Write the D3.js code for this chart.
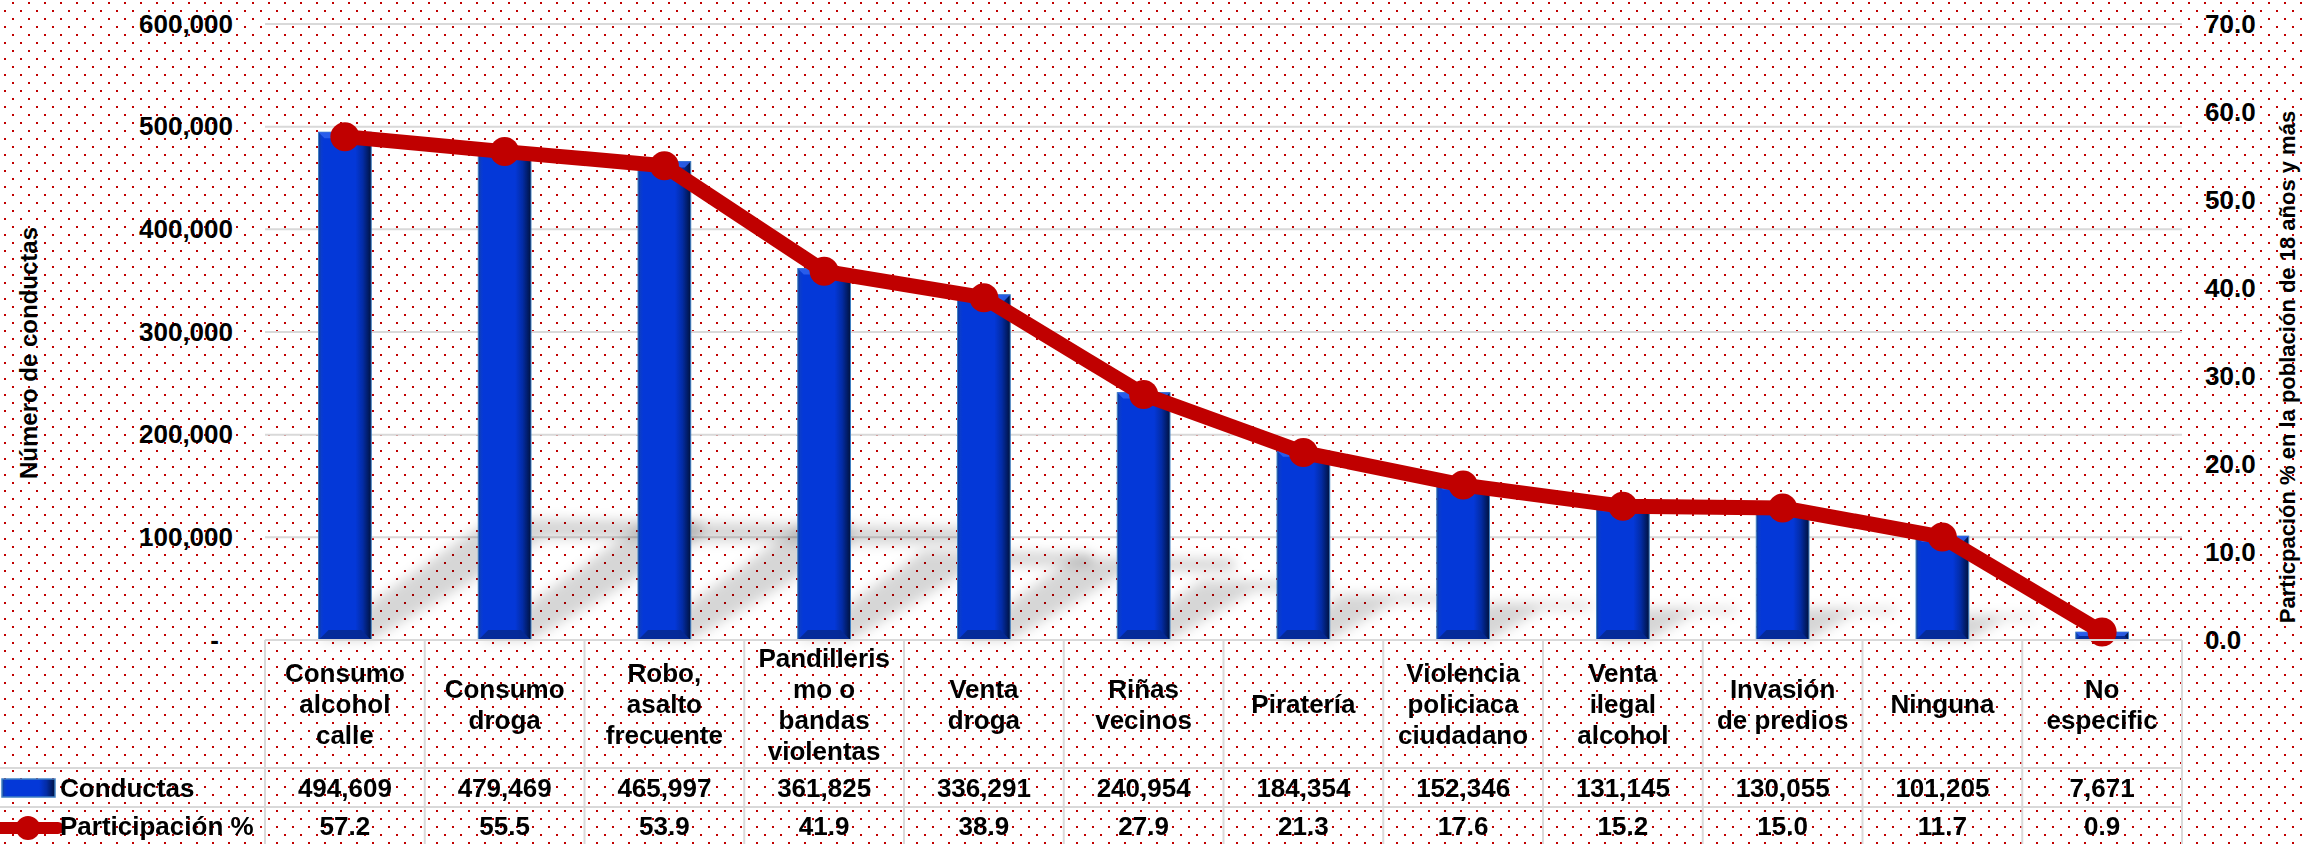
<!DOCTYPE html>
<html>
<head>
<meta charset="utf-8">
<script src="https://cdn.jsdelivr.net/npm/d3@7"></script>
<style>
  html, body { margin: 0; padding: 0; background: #fff; }
  svg { display: block; font-family: "Liberation Sans", Arial, sans-serif; font-weight: bold; }
</style>
</head>
<body>
<svg id="chart" width="2302" height="844"></svg>
<script>
// ---------- data ----------
const categories = [
  "Consumo\nalcohol\ncalle",
  "Consumo\ndroga",
  "Robo,\nasalto\nfrecuente",
  "Pandilleris\nmo o\nbandas\nviolentas",
  "Venta\ndroga",
  "Riñas\nvecinos",
  "Piratería",
  "Violencia\npoliciaca\nciudadano",
  "Venta\nilegal\nalcohol",
  "Invasión\nde predios",
  "Ninguna",
  "No\nespecific"
];
const conductas = [494609, 479469, 465997, 361825, 336291, 240954, 184354, 152346, 131145, 130055, 101205, 7671];
const participacion = [57.2, 55.5, 53.9, 41.9, 38.9, 27.9, 21.3, 17.6, 15.2, 15.0, 11.7, 0.9];
const leftTicks = [0, 100000, 200000, 300000, 400000, 500000, 600000];
const rightTicks = [0, 10, 20, 30, 40, 50, 60, 70];
const seriesNames = ["Conductas", "Participación %"];
const leftTitle = "Número de conductas";
const rightTitle = "Particpación % en la población de 18 años y más";

// ---------- layout ----------
const W = 2302, H = 844;
const plotL = 265, plotR = 2182, plotT = 24, plotB = 640;
const rowHeaderB = 768, rowValB = 807, rowPctB = 847;
const RED = "#C00000";

const svg = d3.select("#chart");
const defs = svg.append("defs");

// dotted background
const pat = defs.append("pattern").attr("id", "dots").attr("patternUnits", "userSpaceOnUse")
  .attr("width", 16).attr("height", 16);
pat.append("rect").attr("width", 16).attr("height", 16).attr("fill", "#fff");
pat.append("rect").attr("x", 12).attr("y", 2).attr("width", 2).attr("height", 2).attr("fill", RED);
pat.append("rect").attr("x", 4).attr("y", 10).attr("width", 2).attr("height", 2).attr("fill", RED);
svg.append("rect").attr("width", W).attr("height", H).attr("fill", "url(#dots)");

// bar gradient
const g = defs.append("linearGradient").attr("id", "barGrad").attr("x1", 0).attr("x2", 1).attr("y1", 0).attr("y2", 0);
[[0, "#123f8f"], [0.05, "#0a3ccc"], [0.1, "#0438d8"], [0.7, "#0438d8"], [0.84, "#032ca6"], [1, "#00123f"]]
  .forEach(([o, c]) => g.append("stop").attr("offset", o).attr("stop-color", c));

// shadow blur
defs.append("filter").attr("id", "blur").attr("x", "-50%").attr("y", "-50%").attr("width", "200%").attr("height", "200%")
  .append("feGaussianBlur").attr("stdDeviation", 6);

// scales
const x = d3.scaleBand().domain(d3.range(categories.length)).range([plotL, plotR]).paddingInner(0).paddingOuter(0);
const yL = d3.scaleLinear().domain([0, 600000]).range([plotB, plotT]);
const yR = d3.scaleLinear().domain([0, 70]).range([plotB, plotT]);
const bw = x.bandwidth() * 0.33;
const cx = i => x(i) + x.bandwidth() / 2;

// gridlines
svg.append("g").selectAll("line").data(leftTicks.filter(d => d > 0)).join("line")
  .attr("x1", plotL).attr("x2", plotR)
  .attr("y1", d => yL(d)).attr("y2", d => yL(d))
  .attr("stroke", "#d9d9d9").attr("stroke-width", 2);

// shadows
const shadows = svg.append("g").attr("filter", "url(#blur)");
conductas.forEach((v, i) => {
  const x0 = cx(i) - bw / 2, x1 = cx(i) + bw / 2;
  const h = plotB - yL(v);
  const pts = [
    [x0, plotB], [x1, plotB],
    [x1 + 0.34 * h, plotB - 0.2 * h],
    [x1 + 0.65 * h, plotB - 0.2 * h],
    [x1 + 0.65 * h, plotB - 0.235 * h],
    [x0 + 0.34 * h, plotB - 0.24 * h]
  ];
  shadows.append("polygon").attr("points", pts.map(p => p.join(",")).join(" "))
    .attr("fill", "#000").attr("opacity", 0.16);
});

// bars
const bars = svg.append("g");
conductas.forEach((v, i) => {
  const x0 = cx(i) - bw / 2, x1 = cx(i) + bw / 2;
  const y0 = yL(v);
  const h = plotB - y0;
  const bg = bars.append("g");
  bg.append("rect").attr("x", x0).attr("y", y0).attr("width", bw).attr("height", h)
    .attr("fill", "url(#barGrad)").attr("stroke", "#3f7fc4").attr("stroke-width", 1);
  const tb = Math.min(6, h / 2), bb = Math.min(10, h / 2);
  bg.append("polygon").attr("points", [[x0, y0], [x1, y0], [x1 - tb, y0 + tb], [x0 + tb, y0 + tb]].map(p => p.join(",")).join(" "))
    .attr("fill", "#2f63ee").attr("opacity", 0.85);
  bg.append("polygon").attr("points", [[x0, plotB], [x1, plotB], [x1 - bb, plotB - bb], [x0 + bb, plotB - bb]].map(p => p.join(",")).join(" "))
    .attr("fill", "#062a93").attr("opacity", 0.9);
});

// line series
const line = d3.line().x((d, i) => cx(i)).y(d => yR(d));
svg.append("path").datum(participacion).attr("d", line)
  .attr("fill", "none").attr("stroke", RED).attr("stroke-width", 15)
  .attr("stroke-linejoin", "round").attr("stroke-linecap", "round");
svg.append("g").selectAll("circle").data(participacion).join("circle")
  .attr("cx", (d, i) => cx(i)).attr("cy", d => yR(d)).attr("r", 14.5).attr("fill", RED);

// left axis
const axL = svg.append("g").attr("transform", `translate(${plotL},0)`)
  .call(d3.axisLeft(yL).tickValues(leftTicks).tickSize(0).tickPadding(32)
    .tickFormat(d => d === 0 ? "-" : d3.format(",")(d)));
axL.select(".domain").remove();
axL.selectAll("text").attr("font-size", 26).attr("font-weight", "bold").attr("fill", "#000")
  .attr("font-family", "Liberation Sans, Arial, sans-serif");
axL.selectAll(".tick").filter(d => d === 0).select("text").attr("x", -46).attr("text-anchor", "end");

// right axis
const axR = svg.append("g").attr("transform", `translate(${plotR},0)`)
  .call(d3.axisRight(yR).tickValues(rightTicks).tickSize(0).tickPadding(23).tickFormat(d3.format(".1f")));
axR.select(".domain").remove();
axR.selectAll("text").attr("font-size", 26).attr("font-weight", "bold").attr("fill", "#000")
  .attr("font-family", "Liberation Sans, Arial, sans-serif");

// axis titles
svg.append("text").attr("transform", `translate(37,${(plotT + plotB) / 2 + 21}) rotate(-90)`)
  .attr("text-anchor", "middle").attr("font-size", 24).attr("fill", "#000").text(leftTitle);
svg.append("text").attr("transform", `translate(2295,${(plotT + plotB) / 2 + 35}) rotate(-90)`)
  .attr("text-anchor", "middle").attr("font-size", 22).attr("fill", "#000").text(rightTitle);

// data table
const tbl = svg.append("g").attr("stroke", "#d9d9d9").attr("stroke-width", 2);
tbl.append("line").attr("x1", plotL).attr("x2", plotR).attr("y1", plotB).attr("y2", plotB);
[rowHeaderB, rowValB].forEach(yy => tbl.append("line").attr("x1", 0).attr("x2", plotR).attr("y1", yy).attr("y2", yy));
tbl.selectAll("line.v").data(d3.range(categories.length + 1)).join("line").attr("class", "v")
  .attr("x1", i => i < categories.length ? x(i) : plotR).attr("x2", i => i < categories.length ? x(i) : plotR)
  .attr("y1", plotB).attr("y2", H);

// category labels
const lh = 31;
const headerMid = (plotB + rowHeaderB) / 2;
svg.append("g").selectAll("text").data(categories).join("text")
  .attr("text-anchor", "middle").attr("font-size", 26).attr("fill", "#000")
  .each(function (d, i) {
    const lines = d.split("\n");
    const t = d3.select(this);
    lines.forEach((ln, k) => {
      t.append("tspan").attr("x", cx(i))
        .attr("y", headerMid + (k - (lines.length - 1) / 2) * lh)
        .attr("dy", "0.36em").text(ln);
    });
  });

// value rows
const valMid = (rowHeaderB + rowValB) / 2, pctMid = (rowValB + rowPctB) / 2 - 1;
svg.append("g").selectAll("text").data(conductas).join("text")
  .attr("x", (d, i) => cx(i)).attr("y", valMid).attr("dy", "0.36em")
  .attr("text-anchor", "middle").attr("font-size", 26).attr("fill", "#000").text(d => d3.format(",")(d));
svg.append("g").selectAll("text").data(participacion).join("text")
  .attr("x", (d, i) => cx(i)).attr("y", pctMid).attr("dy", "0.36em")
  .attr("text-anchor", "middle").attr("font-size", 26).attr("fill", "#000").text(d => d3.format(".1f")(d));

// legend keys
svg.append("rect").attr("x", 2).attr("y", 779).attr("width", 53).attr("height", 18)
  .attr("fill", "url(#barGrad)").attr("stroke", "#3f7fc4").attr("stroke-width", 1.5);
svg.append("line").attr("x1", 0).attr("x2", 58).attr("y1", 828).attr("y2", 828)
  .attr("stroke", RED).attr("stroke-width", 12).attr("stroke-linecap", "round");
svg.append("circle").attr("cx", 28).attr("cy", 828).attr("r", 12).attr("fill", RED);
svg.append("text").attr("x", 60).attr("y", valMid).attr("dy", "0.36em").attr("font-size", 26).attr("fill", "#000").text(seriesNames[0]);
svg.append("text").attr("x", 60).attr("y", pctMid).attr("dy", "0.36em").attr("font-size", 26).attr("fill", "#000").text(seriesNames[1]);
</script>
</body>
</html>
